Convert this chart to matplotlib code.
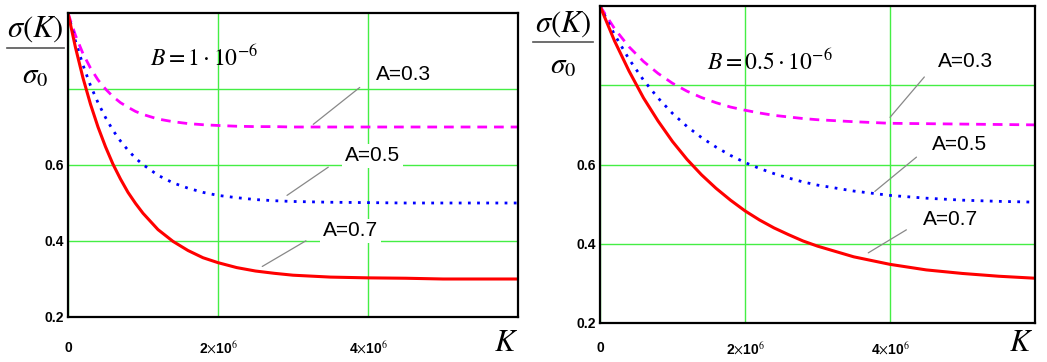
import numpy as np
import matplotlib
matplotlib.use("Agg")
import matplotlib.pyplot as plt

plt.rcParams['mathtext.fontset'] = 'stix'
plt.rcParams['font.family'] = ['Liberation Sans', 'DejaVu Sans']

# K in millions, values of sigma(K)/sigma0
k_left = [0, 0.1, 0.2, 0.3, 0.4, 0.5, 0.6, 0.7, 0.8, 0.9, 1.0, 1.2, 1.4, 1.6, 1.8,
          2.0, 2.25, 2.5, 2.75, 3.0, 3.5, 4.0, 4.5, 5.0, 6.0]
a03_left = [1.0, 0.941, 0.893, 0.855, 0.824, 0.800, 0.780, 0.764, 0.752, 0.741, 0.733,
            0.721, 0.714, 0.709, 0.706, 0.704, 0.702, 0.701, 0.701, 0.700, 0.700,
            0.700, 0.700, 0.700, 0.700]
a05_left = [1.0, 0.926, 0.863, 0.809, 0.764, 0.725, 0.691, 0.663, 0.639, 0.618, 0.601,
            0.573, 0.553, 0.539, 0.528, 0.520, 0.514, 0.509, 0.506, 0.504, 0.502,
            0.501, 0.500, 0.500, 0.500]
a07_left = [1.0, 0.909, 0.829, 0.760, 0.700, 0.648, 0.602, 0.563, 0.528, 0.499, 0.473,
            0.430, 0.399, 0.375, 0.356, 0.343, 0.330, 0.321, 0.315, 0.310, 0.305,
            0.303, 0.302, 0.300, 0.300]

k_right = [0, 0.2, 0.4, 0.6, 0.8, 1.0, 1.2, 1.4, 1.6, 1.8, 2.0, 2.2, 2.4, 2.6, 2.8,
           3.0, 3.5, 4.0, 4.5, 5.0, 5.5, 6.0]
a03_right = [1.0, 0.943, 0.897, 0.860, 0.830, 0.805, 0.785, 0.769, 0.756, 0.745, 0.737,
             0.730, 0.724, 0.720, 0.716, 0.713, 0.708, 0.704, 0.703, 0.702, 0.701, 0.700]
a05_right = [1.0, 0.928, 0.866, 0.813, 0.768, 0.729, 0.696, 0.668, 0.644, 0.623, 0.605,
             0.590, 0.577, 0.566, 0.556, 0.548, 0.533, 0.522, 0.515, 0.510, 0.507, 0.505]
a07_right = [1.0, 0.912, 0.836, 0.768, 0.710, 0.658, 0.613, 0.574, 0.540, 0.510, 0.483,
             0.460, 0.440, 0.423, 0.407, 0.394, 0.367, 0.348, 0.334, 0.325, 0.318, 0.313]

fig = plt.figure(figsize=(10.47, 3.62), dpi=100)
W, H = 1047, 362


def make_axes(l, t, r, b):
    return fig.add_axes([l / W, 1 - b / H, (r - l) / W, (b - t) / H])


def setup(ax, k, a03, a05, a07, btxt, bxy, labels, xpad):
    k = np.array(k) * 1e6
    ax.plot(k, a03, color='#ff00ff', lw=2.0, ls=(0, (3.5, 2.5)))
    ax.plot(k, a05, color='#0000ff', lw=2.0, ls=(0, (1, 2.3)))
    ax.plot(k, a07, color='#ff0000', lw=2.2)
    ax.set_xlim(0, 6e6)
    ax.set_ylim(0.2, 1.0)
    ax.set_xticks([0, 2e6, 4e6])
    ax.set_xticklabels(['0', r'2$\times$10$^6$', r'4$\times$10$^6$'],
                       fontsize=10, fontweight='bold')
    ax.set_yticks([0.2, 0.4, 0.6, 0.8])
    ax.set_yticklabels(['0.2', '0.4', '0.6', ''], fontsize=10, fontweight='bold')
    ax.tick_params(length=0, pad=3)
    ax.tick_params(axis='x', pad=xpad)
    ax.grid(True, color='#44ee44', lw=1.0)
    ax.set_axisbelow(True)
    for s in ax.spines.values():
        s.set_linewidth(1.6)
        s.set_color('black')
    ax.text(bxy[0], bxy[1], btxt, fontsize=17, va='center', ha='left')
    for txt, xy, xyt in labels:
        ax.annotate(txt, xy=xy, xytext=xyt, fontsize=15, va='center', ha='left',
                    bbox=dict(fc='white', ec='none', pad=2),
                    arrowprops=dict(arrowstyle='-', color='#888888', lw=0.9,
                                    relpos=(0, 0.5), shrinkA=12, shrinkB=0))


ax1 = make_axes(68, 13, 518, 317)
setup(ax1, k_left, a03_left, a05_left, a07_left,
      r'$B = 1\cdot 10^{-6}$', (1.09e6, 0.88),
      [('A=0.3', (3.27e6, 0.707), (4.1e6, 0.837)),
       ('A=0.5', (2.92e6, 0.52), (3.69e6, 0.624)),
       ('A=0.7', (2.59e6, 0.333), (3.4e6, 0.427))], 17)

ax2 = make_axes(600, 6, 1035, 323)
setup(ax2, k_right, a03_right, a05_right, a07_right,
      r'$B = 0.5\cdot 10^{-6}$', (1.48e6, 0.858),
      [('A=0.3', (4.0e6, 0.719), (4.66e6, 0.861)),
       ('A=0.5', (3.79e6, 0.532), (4.58e6, 0.651)),
       ('A=0.7', (3.70e6, 0.377), (4.46e6, 0.461))], 13)

# y labels sigma(K)/sigma0 and x labels K
for x0, x1, ys, yl, y0 in [(7, 64, 29, 48, 75), (533, 593, 24, 42, 65)]:
    xc = (x0 + x1) / 2
    fig.text(xc / W, 1 - ys / H, r'$\sigma(K)$', fontsize=22, ha='center', va='center')
    fig.add_artist(plt.Line2D([x0 / W, x1 / W], [1 - yl / H, 1 - yl / H],
                              color='#555555', lw=1.2))
    fig.text(xc / W, 1 - y0 / H, r'$\sigma_0$', fontsize=21, ha='center', va='center')

fig.text(506 / W, 1 - 343 / H, r'$K$', fontsize=22, ha='center', va='center')
fig.text(1021 / W, 1 - 343 / H, r'$K$', fontsize=22, ha='center', va='center')

fig.savefig('out.png', dpi=100)
